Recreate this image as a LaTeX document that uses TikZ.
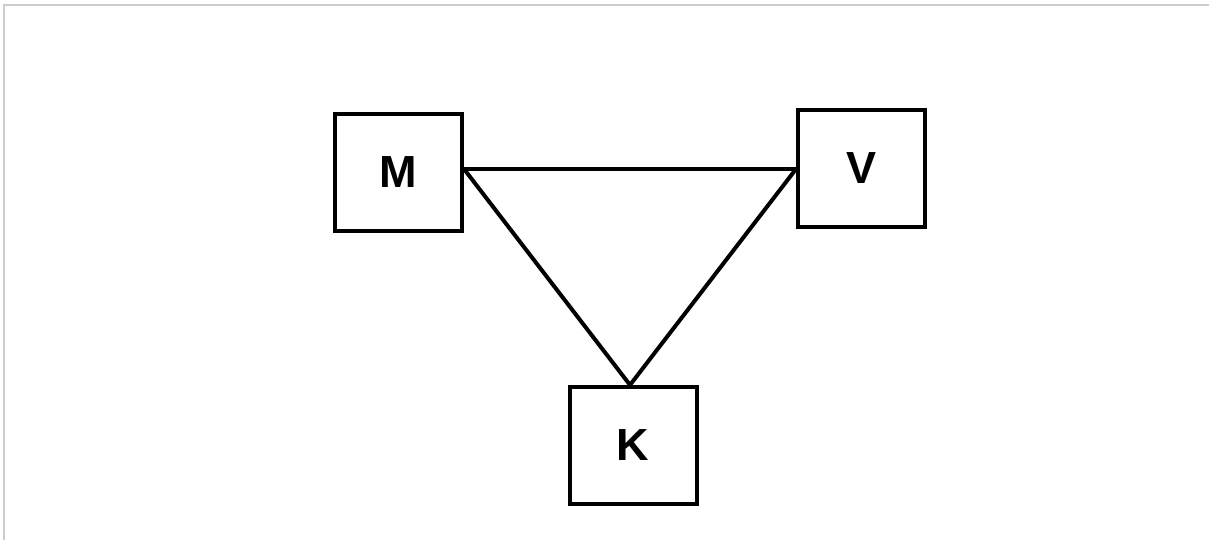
\documentclass[tikz,border=0pt]{standalone}
\usepackage{fontspec}
\setmainfont{Liberation Sans}
\begin{document}
\begin{tikzpicture}[x=1pt,y=-1pt,
  box/.style={draw=black,line width=4pt,minimum width=127pt,minimum height=117pt,inner sep=0pt,font=\fontsize{45}{52}\selectfont\bfseries},
  edge/.style={draw=black,line width=4pt},
  frame/.style={draw=black!20,line width=2pt}]
\useasboundingbox (0,0) rectangle (1209,540);
\coordinate (tl) at (4,5);
\coordinate (tr) at (1209,5);
\coordinate (bl) at (4,540);
\draw[frame] (bl) -- (tl) -- (tr);
\node[box] (M) at (398.5,172.5) {M};
\node[box] (V) at (861.5,168.5) {V};
\node[box] (K) at (633,445.5) {K};
\coordinate (m1) at ([yshift=3.5pt]M.east);
\coordinate (v1) at ([yshift=-0.5pt]V.west);
\coordinate (k1) at ([xshift=-3pt]K.north);
\draw[edge,line join=miter] (m1) -- (v1);
\draw[edge] (m1) -- (k1);
\draw[edge] (v1) -- (k1);
\end{tikzpicture}
\end{document}
